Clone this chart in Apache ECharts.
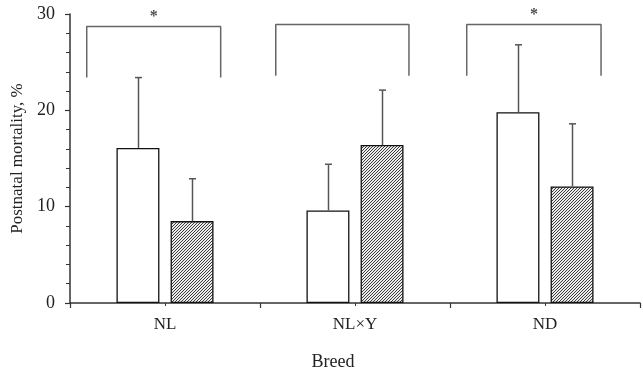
<!DOCTYPE html>
<html><head><meta charset="utf-8">
<script src="https://cdn.jsdelivr.net/npm/echarts@6/dist/echarts.min.js"></script>
<style>html,body{margin:0;padding:0;background:#fff}#c{width:643px;height:374px}</style>
</head><body><div id="c"></div>
<script>
var categories = ['NL', 'NL\u00d7Y', 'ND'];
var openValues = [16.1, 9.6, 19.8];
var openErrTop = [23.4, 14.4, 26.8];
var hatchValues = [8.5, 16.4, 12.1];
var hatchErrTop = [12.9, 22.1, 18.6];
// brackets: [start (category units), end, leg bottom, top]
var bracketStart = [0.088, 1.083, 2.088];
var bracketEnd = [0.793, 1.784, 2.795];
var bracketLow = [23.4, 23.6, 23.6];
var bracketHigh = [28.7, 28.9, 28.9];
var bracketStar = ['*', '', '*'];
var yTicks = [0, 10, 20, 30];

var FONT = '"Liberation Serif", "Times New Roman", serif';
var cv = document.createElement('canvas');
cv.width = 3; cv.height = 3;
var g = cv.getContext('2d');
var img = g.createImageData(3, 3);
for (var yy = 0; yy < 3; yy++) for (var xx = 0; xx < 3; xx++) {
  var k = (yy * 3 + xx) * 4;
  var on = (xx + yy) % 3 === 2;
  var c = on ? 60 : 235;
  img.data[k] = c; img.data[k + 1] = c; img.data[k + 2] = c; img.data[k + 3] = 255;
}
g.putImageData(img, 0, 0);

var chart = echarts.init(document.getElementById('c'), null, {renderer: 'canvas'});

function errSeries(top, vals, sign) {
  return {
    type: 'custom', xAxisIndex: 0, yAxisIndex: 0, z: 5,
    data: categories.map(function (c, i) { return [i, top[i], vals[i]]; }),
    renderItem: function (params, api) {
      var band = api.size([1, 0])[0];
      var p1 = api.coord([api.value(0), api.value(2)]);
      var p2 = api.coord([api.value(0), api.value(1)]);
      var x = Math.round(p1[0] + sign * band * 0.142) + 0.5;
      var style = {stroke: '#555', lineWidth: 1.5};
      return {type: 'group', children: [
        {type: 'line', shape: {x1: x, y1: p1[1], x2: x, y2: p2[1]}, style: style},
        {type: 'line', shape: {x1: x - 3.5, y1: p2[1], x2: x + 3.5, y2: p2[1]}, style: style}
      ]};
    }
  };
}

var bracketData = [];
var starData = [];
for (var i = 0; i < categories.length; i++) {
  bracketData.push([bracketStart[i], bracketLow[i]], [bracketStart[i], bracketHigh[i]],
    [bracketEnd[i], bracketHigh[i]], [bracketEnd[i], bracketLow[i]], [null, null]);
  if (bracketStar[i]) starData.push({value: [(bracketStart[i] + bracketEnd[i]) / 2, bracketHigh[i]], star: bracketStar[i]});
}

chart.setOption({
  animation: false,
  backgroundColor: '#fff',
  grid: {left: 70, right: 3, top: 14, bottom: 71, containLabel: false, outerBoundsMode: 'none'},
  xAxis: [
    {type: 'category', data: categories, boundaryGap: true,
      axisLine: {lineStyle: {color: '#333', width: 1.5}},
      axisTick: {show: true, length: 5, lineStyle: {color: '#333', width: 1.2}},
      axisLabel: {color: '#222', fontFamily: FONT, fontSize: 17, margin: 13},
      name: 'Breed', nameLocation: 'middle', nameGap: 50,
      nameTextStyle: {color: '#222', fontFamily: FONT, fontSize: 18, padding: [0, 44, 0, 0]}},
    {type: 'category', data: [1, 2, 3, 4, 5, 6], position: 'bottom', boundaryGap: true,
      axisLine: {show: false}, axisLabel: {show: false},
      axisTick: {show: true, length: 3, lineStyle: {color: '#333', width: 1}}},
    {type: 'value', min: 0, max: 3, show: false}
  ],
  yAxis: {
    type: 'value', min: 0, max: 30, interval: 10,
    axisLine: {show: true, lineStyle: {color: '#333', width: 1.5}},
    axisTick: {show: true, length: 5, lineStyle: {color: '#333', width: 1.2}},
    minorTick: {show: true, splitNumber: 5, length: 4, lineStyle: {color: '#333', width: 1}},
    splitLine: {show: false},
    axisLabel: {color: '#222', fontFamily: FONT, fontSize: 18, margin: 15,
      formatter: function (v) { return yTicks.indexOf(v) >= 0 ? String(v) : ''; }},
    name: 'Postnatal mortality, %', nameLocation: 'middle', nameGap: 40,
    nameTextStyle: {color: '#222', fontFamily: FONT, fontSize: 17}
  },
  series: [
    {type: 'bar', data: openValues, barWidth: '22.6%', barGap: '26%',
      itemStyle: {color: '#fff', borderColor: '#111', borderWidth: 1.3}},
    {type: 'bar', data: hatchValues, barWidth: '22.6%', barGap: '26%',
      itemStyle: {color: {image: cv, repeat: 'repeat'}, borderColor: '#111', borderWidth: 1.3}},
    errSeries(openErrTop, openValues, -1),
    errSeries(hatchErrTop, hatchValues, 1),
    {type: 'line', xAxisIndex: 2, data: bracketData, symbol: 'none', connectNulls: false,
      lineStyle: {color: '#666', width: 1.5}},
    {type: 'scatter', xAxisIndex: 2, data: starData, symbolSize: 0,
      label: {show: true, position: 'top', distance: 2, formatter: function (p) { return p.data.star; },
        color: '#222', fontFamily: FONT, fontSize: 16, fontWeight: 'bold'}}
  ]
});
</script></body></html>
